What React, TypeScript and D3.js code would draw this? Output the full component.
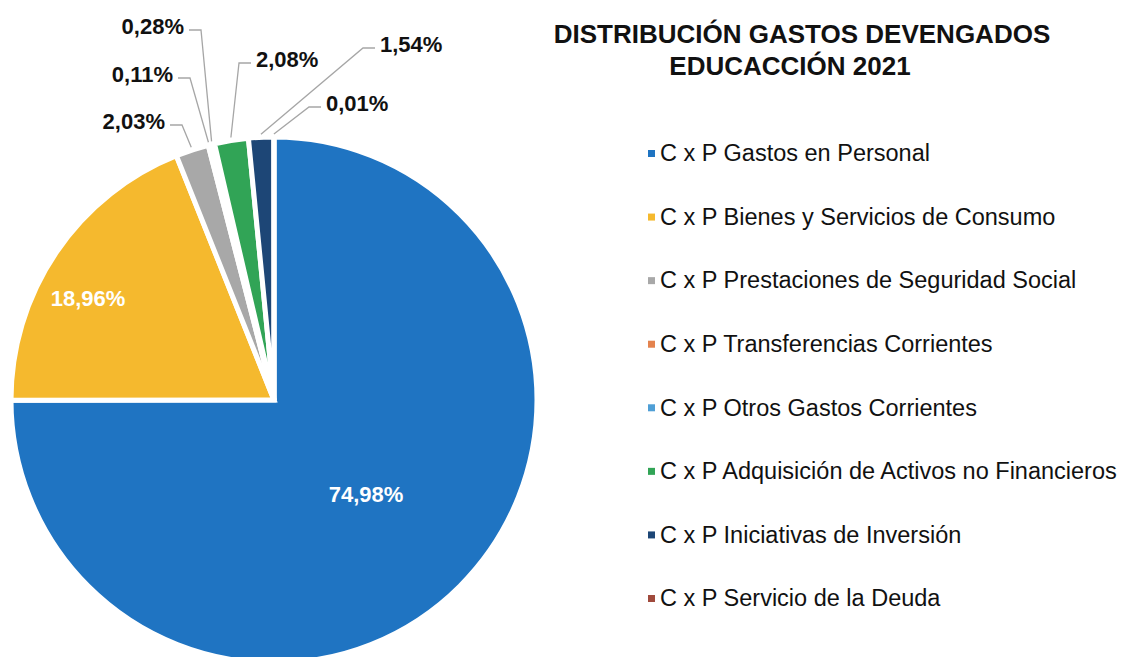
import React, { useEffect, useRef } from 'react';
import * as d3 from 'd3';

const categories = [
  'C x P Gastos en Personal',
  'C x P Bienes y Servicios de Consumo',
  'C x P Prestaciones de Seguridad Social',
  'C x P Transferencias Corrientes',
  'C x P Otros Gastos Corrientes',
  'C x P Adquisición de Activos no Financieros',
  'C x P Iniciativas de Inversión',
  'C x P Servicio de la Deuda',
];
const values = [74.98, 18.96, 2.03, 0.11, 0.28, 2.08, 1.54, 0.01];
const colors = ['#1f74c2', '#f5b92e', '#a8a8a8', '#e4834e', '#4f9fd6', '#31a456', '#1d4676', '#a04a3c'];
const titleLines = ['DISTRIBUCIÓN GASTOS DEVENGADOS', 'EDUCACCIÓN 2021'];

// where each value label sits (inside = white text on the slice, otherwise a leader line)
const labelLayout = [
  { x: 366, y: 494, inside: true, anchor: 'middle' },
  { x: 88, y: 298, inside: true, anchor: 'middle' },
  { x: 165, y: 121, inside: false, anchor: 'end' },
  { x: 173, y: 74, inside: false, anchor: 'end' },
  { x: 184, y: 26, inside: false, anchor: 'end' },
  { x: 256, y: 59, inside: false, anchor: 'start' },
  { x: 380, y: 44, inside: false, anchor: 'start' },
  { x: 326, y: 103, inside: false, anchor: 'start' },
];

const fmt = (v: number) => v.toFixed(2).replace('.', ',') + '%';

function App() {
  const svgRef = useRef<SVGSVGElement>(null);
  const width = 1131;
  const height = 657;

  useEffect(() => {
    document.body.style.margin = '0';
    if (!svgRef.current) return;
    const svg = d3.select(svgRef.current);
    svg.selectAll('*').remove();

    const cx = 274;
    const cy = 400;
    const radius = 263;
    const font = 'Liberation Sans, Arial, sans-serif';

    const pie = d3.pie<number>().sort(null).value(d => d);
    const arcs = pie(values);
    const arc = d3.arc<d3.PieArcDatum<number>>().innerRadius(0).outerRadius(radius);

    const g = svg.append('g').attr('transform', `translate(${cx},${cy})`);

    g.selectAll('path.slice')
      .data(arcs)
      .enter().append('path')
      .attr('class', 'slice')
      .attr('d', arc)
      .attr('fill', (_, i) => colors[i])
      .attr('stroke', '#fff')
      .attr('stroke-width', 5)
      .attr('stroke-linejoin', 'miter');

    // leader lines for the small slices
    arcs.forEach((a, i) => {
      const lay = labelLayout[i];
      if (lay.inside) return;
      const mid = (a.startAngle + a.endAngle) / 2;
      const ex = cx + (radius + 3) * Math.sin(mid);
      const ey = cy - (radius + 3) * Math.cos(mid);
      const dir = lay.anchor === 'end' ? 1 : -1;
      const sx = lay.x + dir * 5;
      const sy = lay.y + 4;
      const elbow = sx + dir * 12;
      svg.append('polyline')
        .attr('points', `${sx},${sy} ${elbow},${sy} ${ex},${ey}`)
        .attr('fill', 'none')
        .attr('stroke', '#a6a6a6')
        .attr('stroke-width', 1.3);
    });

    // value labels
    arcs.forEach((a, i) => {
      const lay = labelLayout[i];
      svg.append('text')
        .attr('x', lay.x)
        .attr('y', lay.y)
        .attr('dy', '0.35em')
        .attr('text-anchor', lay.anchor)
        .style('font-family', font)
        .style('font-weight', 'bold')
        .style('font-size', '22px')
        .style('fill', lay.inside ? '#fff' : '#111')
        .text(fmt(a.data));
    });

    // title
    svg.append('g').selectAll('text')
      .data(titleLines)
      .enter().append('text')
      .attr('x', (_, i) => (i === 0 ? 802 : 790))
      .attr('y', (_, i) => 43 + i * 32)
      .attr('text-anchor', 'middle')
      .style('font-family', font)
      .style('font-weight', 'bold')
      .style('font-size', '26px')
      .style('fill', '#111')
      .text(d => d);

    // legend
    const legendY = d3.scalePoint<string>()
      .domain(categories)
      .range([153, 598]);

    const legend = svg.append('g').selectAll('g')
      .data(categories)
      .enter().append('g')
      .attr('transform', d => `translate(648,${legendY(d)})`);

    legend.append('rect')
      .attr('x', 0)
      .attr('y', -3)
      .attr('width', 7)
      .attr('height', 7)
      .attr('fill', (_, i) => colors[i]);

    legend.append('text')
      .attr('x', 12)
      .attr('y', 0)
      .attr('dy', '0.35em')
      .style('font-family', font)
      .style('font-size', '23.5px')
      .style('fill', '#111')
      .text(d => d);
  }, []);

  return (
    <svg ref={svgRef} width={width} height={height} style={{ display: 'block', background: '#fff' }}></svg>
  );
}

export default App;
